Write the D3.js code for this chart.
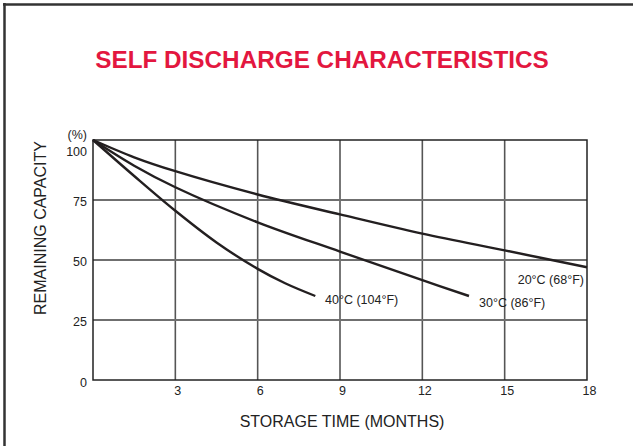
<!DOCTYPE html>
<html><head><meta charset="utf-8">
<script src="https://cdn.jsdelivr.net/npm/d3@7"></script>
<style>body{margin:0;background:#fff}svg{display:block}text{font-family:"Liberation Sans",Arial,sans-serif}</style>
</head><body>
<svg id="c" width="633" height="446"></svg>
<script>
const title = "SELF DISCHARGE CHARACTERISTICS";
const xTicks = [3, 6, 9, 12, 15, 18];
const yTicks = [0, 25, 50, 75, 100];
const months20 = [0, 1.5, 3, 6, 9, 12, 15, 18];
const cap20 = [100, 92.8, 87, 77.3, 69, 61, 54, 47];
const months30 = [0, 1.5, 3, 6, 9, 12, 13.7];
const cap30 = [100, 89.3, 80.3, 65.7, 53.5, 41.6, 35];
const months40 = [0, 1.5, 3, 4.5, 6, 7, 8.1];
const cap40 = [100, 85, 70.5, 57.3, 46.3, 40.3, 35];
const seriesNames = ["20°C (68°F)", "30°C (86°F)", "40°C (104°F)"];

const svg = d3.select("#c");
const x = d3.scaleLinear().domain([0, 18]).range([93, 587]);
const y = d3.scaleLinear().domain([0, 100]).range([380, 140]);

// outer frame
svg.append("line").attr("x1", 4.5).attr("x2", 4.5).attr("y1", 3).attr("y2", 446).attr("stroke", "#333").attr("stroke-width", 2.5);
svg.append("line").attr("x1", 3).attr("x2", 633).attr("y1", 4.5).attr("y2", 4.5).attr("stroke", "#333").attr("stroke-width", 2.5);

svg.append("text").attr("x", 322).attr("y", 68).attr("text-anchor", "middle")
  .attr("font-size", 24.3).attr("font-weight", "bold").attr("fill", "#e3173f").text(title);

// gridlines
const g = svg.append("g");
g.selectAll(".vg").data(xTicks.slice(0, -1)).join("line")
  .attr("x1", d => x(d)).attr("x2", d => x(d)).attr("y1", y(100)).attr("y2", y(0))
  .attr("stroke", "#555").attr("stroke-width", 1.6);
g.selectAll(".hg").data(yTicks.slice(1, -1)).join("line")
  .attr("x1", x(0)).attr("x2", x(18)).attr("y1", d => y(d)).attr("y2", d => y(d))
  .attr("stroke", "#6f6f6f").attr("stroke-width", 1.8);
// frame
g.append("rect").attr("x", x(0)).attr("y", y(100)).attr("width", x(18) - x(0)).attr("height", y(0) - y(100))
  .attr("fill", "none").attr("stroke", "#222").attr("stroke-width", 1.5);

// axes (labels only)
const xAxis = d3.axisBottom(x).tickValues(xTicks).tickSize(0).tickPadding(6);
const xa = svg.append("g").attr("transform", `translate(2,${y(0)})`).call(xAxis);
xa.select(".domain").remove();
xa.selectAll("text").attr("font-size", 12.5).attr("fill", "#222").attr("font-family", "Liberation Sans, Arial, sans-serif");

const yAxis = d3.axisLeft(y).tickValues(yTicks).tickSize(0).tickPadding(6);
const ya = svg.append("g").attr("transform", `translate(${x(0)},0)`).call(yAxis);
ya.select(".domain").remove();
ya.selectAll("text").attr("font-size", 12.5).attr("fill", "#222").attr("font-family", "Liberation Sans, Arial, sans-serif")
  .attr("dy", d => d === 100 ? "1.2em" : (d === 0 ? "0.55em" : "0.45em"));
svg.append("text").attr("x", 87).attr("y", 139).attr("text-anchor", "end").attr("font-size", 12.5).attr("fill", "#222").text("(%)");

svg.append("text").attr("x", 342).attr("y", 427).attr("text-anchor", "middle").attr("font-size", 16).attr("fill", "#222").text("STORAGE TIME (MONTHS)");
svg.append("text").attr("transform", "translate(46,228) rotate(-90)").attr("text-anchor", "middle").attr("font-size", 16).attr("fill", "#222").text("REMAINING CAPACITY");

// curves
const line = d3.line().x(d => x(d[0])).y(d => y(d[1])).curve(d3.curveCatmullRom.alpha(0.5));
const series = [d3.zip(months20, cap20), d3.zip(months30, cap30), d3.zip(months40, cap40)];
svg.selectAll(".curve").data(series).join("path")
  .attr("d", line).attr("fill", "none").attr("stroke", "#231f20").attr("stroke-width", 2.4);

// labels
const labelPos = [[584, 284, "end"], [479, 307, "start"], [325, 304, "start"]];
seriesNames.forEach((n, i) => {
  svg.append("text").attr("x", labelPos[i][0]).attr("y", labelPos[i][1]).attr("text-anchor", labelPos[i][2])
    .attr("font-size", 12.5).attr("fill", "#222").text(n);
});
</script>
</body></html>
